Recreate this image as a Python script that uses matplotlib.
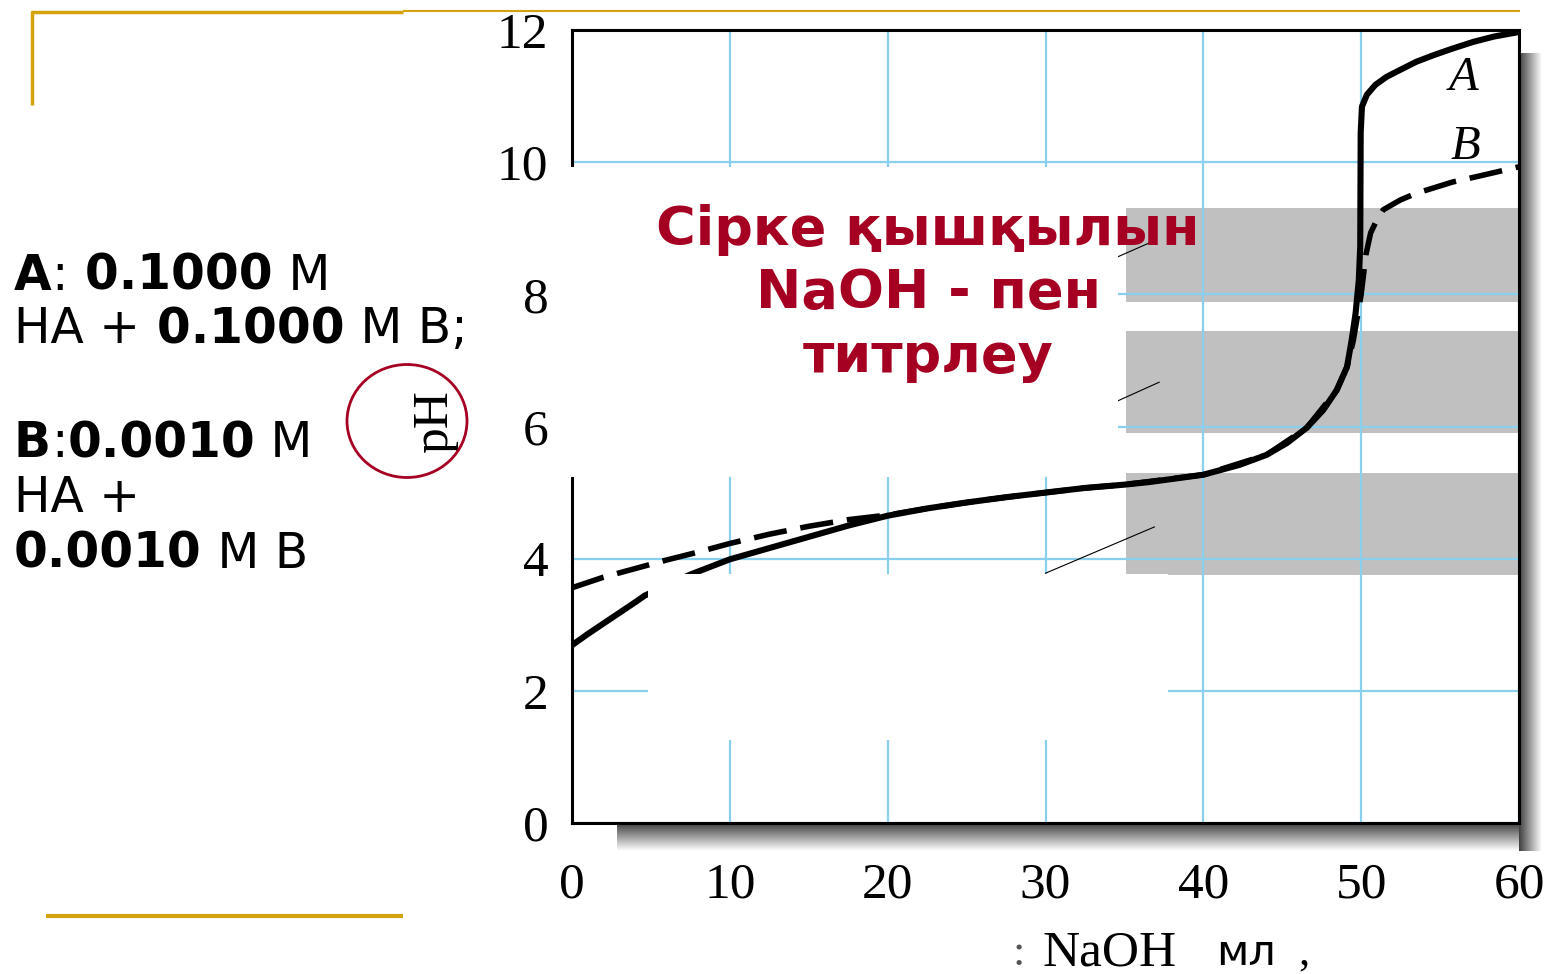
import matplotlib
matplotlib.use('Agg')
import matplotlib.pyplot as plt
from matplotlib.patches import Rectangle, Ellipse
import numpy as np

# titration curve A: 0.1000 M acid + 0.1000 M base (solid)
vol_a = [0, 1, 2, 3, 4, 4.6, 7.5, 10, 12.5, 15, 17.5, 20, 22.5, 25, 27.5,
         30, 32.5, 35, 36.6, 40, 42.3, 44, 45.3, 46.55, 47.6, 48.45, 49.1,
         49.4, 49.65, 49.85, 49.94, 49.97, 50.05, 50.36, 50.9, 51.6, 52.5,
         53.5, 54.6, 55.8, 57.1, 58.4, 60]
ph_a = [2.69, 2.86, 3.02, 3.18, 3.34, 3.44, 3.76, 3.99, 4.16, 4.33, 4.50,
        4.65, 4.76, 4.85, 4.93, 5.00, 5.07, 5.12, 5.16, 5.27, 5.42, 5.57,
        5.75, 5.98, 6.25, 6.55, 6.90, 7.31, 7.72, 8.22, 8.72, 10.45, 10.84,
        11.02, 11.17, 11.29, 11.40, 11.52, 11.62, 11.72, 11.82, 11.90, 11.97]

# titration curve B: 0.0010 M acid + 0.0010 M base (dashed)
vol_b = [0, 2, 4, 6, 8, 10, 12.5, 15, 17.5, 20, 22.5, 25, 27.5, 30, 32.5, 35,
         40, 44, 46.55, 48.45, 49.1, 49.5, 50.0, 50.3, 50.6, 51, 51.4, 52.5,
         53.5, 55.8, 57.3, 60]
ph_b = [3.56, 3.72, 3.85, 3.98, 4.10, 4.23, 4.37, 4.49, 4.59, 4.66, 4.76,
        4.85, 4.93, 5.00, 5.07, 5.12, 5.27, 5.57, 5.98, 6.55, 6.90, 7.30,
        8.00, 8.60, 8.93, 9.13, 9.28, 9.43, 9.53, 9.70, 9.78, 9.93]

x_ticks = [0, 10, 20, 30, 40, 50, 60]
y_ticks = [0, 2, 4, 6, 8, 10, 12]

# grey bands on the right of the chart (pH ranges)
band_lo = [7.88, 5.90, 3.75]
band_hi = [9.31, 7.45, 5.30]

title_lines = ["Сірке қышқылын", "NaOH - пен", "титрлеу"]

W, H = 1546, 974
RED = '#a50021'
GOLD = '#d4a20c'
SERIF = 'Liberation Serif'


def rich_line(ax, x, y, parts, size):
    t = ax.text(x, y, parts[0][0], fontsize=size, fontweight=parts[0][1],
                va='baseline', ha='left', family='DejaVu Sans')
    for s, w in parts[1:]:
        t = ax.annotate(s, xy=(1, 0), xycoords=t, va='bottom', ha='left',
                        fontsize=size, fontweight=w, family='DejaVu Sans')
    return t


fig = plt.figure(figsize=(W / 100, H / 100), dpi=100)

# drop shadow behind the chart frame
bg = fig.add_axes([0, 0, 1, 1], zorder=-1)
grad = np.linspace(0.25, 1.0, 64)
bg.imshow(grad[:, None], extent=(617, 1542, 851, 823), cmap='gray',
          vmin=0, vmax=1, aspect='auto')
bg.imshow(grad[None, :], extent=(1519, 1542, 851, 53), cmap='gray',
          vmin=0, vmax=1, aspect='auto')
bg.set_xlim(0, W)
bg.set_ylim(H, 0)
bg.axis('off')

# main chart
ax = fig.add_axes([572 / W, 1 - 823 / H, (1519 - 572) / W, (823 - 30) / H])
ax.set_facecolor('white')
ax.set_xlim(0, 60)
ax.set_ylim(0, 12)
ax.set_xticks(x_ticks)
ax.set_yticks(y_ticks)
ax.set_xticklabels([str(v) for v in x_ticks], fontfamily=SERIF, fontsize=37)
ax.set_yticklabels([str(v) for v in y_ticks], fontfamily=SERIF, fontsize=37)
ax.tick_params(length=0)
ax.tick_params(axis='y', pad=17)
ax.tick_params(axis='x', pad=28)
ax.grid(True, color='#88d0ee', lw=1.6)
for sp in ax.spines.values():
    sp.set_color('black')
    sp.set_linewidth(2.2)

for lo, hi in zip(band_lo, band_hi):
    ax.add_patch(Rectangle((35.1, lo), 24.9, hi - lo, fc='#c0c0c0', ec='none', zorder=1))

# thin leader strokes
ax.plot([34.6, 36.6], [8.57, 8.78], color='black', lw=0.8)
ax.plot([34.6, 37.2], [6.39, 6.67], color='black', lw=0.8)
ax.plot([30.0, 36.9], [3.78, 4.48], color='black', lw=0.8)

ax.plot(vol_a, ph_a, color='black', lw=4.4, zorder=3)
ax.plot(vol_b, ph_b, color='black', lw=4.0, dashes=(6, 2.5), zorder=3)

ax.text(56.5, 11.27, 'A', fontstyle='italic', family=SERIF, fontsize=35,
        ha='center', va='center')
ax.text(56.6, 10.23, 'B', fontstyle='italic', family=SERIF, fontsize=35,
        ha='center', va='center')

ax.set_ylabel('pH', fontfamily=SERIF, fontsize=37)
ax.yaxis.set_label_coords((458 - 572) / 947, (823 - 422) / 793)

# slide overlay: white boxes, decorations and text
ov = fig.add_axes([0, 0, 1, 1], zorder=2)
ov.set_xlim(0, W)
ov.set_ylim(H, 0)
ov.axis('off')
ov.patch.set_alpha(0)

ov.add_patch(Rectangle((562, 167), 1118 - 562, 477 - 167, fc='white', ec='none'))
ov.add_patch(Rectangle((648, 574), 1168 - 648, 740 - 574, fc='white', ec='none'))

ov.plot([31, 403], [12, 12], color=GOLD, lw=2.5, solid_capstyle='butt')
ov.plot([403, 1520], [11, 11], color=GOLD, lw=1.5, solid_capstyle='butt')
ov.plot([32, 32], [11, 105], color=GOLD, lw=2.5, solid_capstyle='butt')
ov.plot([46, 403], [916, 916], color=GOLD, lw=3, solid_capstyle='butt')

ov.add_patch(Ellipse((407, 421), 120, 113, fc='none', ec=RED, lw=2))

fs = 35
rich_line(ov, 14, 290, [("A", "bold"), (":", "normal"), (" 0.1000", "bold"), (" M", "normal")], fs)
rich_line(ov, 14, 343, [("HA +", "normal"), (" 0.1000", "bold"), (" M B;", "normal")], fs)
rich_line(ov, 14, 457, [("B", "bold"), (":", "normal"), ("0.0010", "bold"), (" M", "normal")], fs)
rich_line(ov, 14, 512, [("HA +", "normal")], fs)
rich_line(ov, 14, 568, [("0.0010", "bold"), (" M B", "normal")], fs)

for line, yb in zip(title_lines, [245, 308, 372]):
    ov.text(928, yb, line, color=RED, fontsize=39, fontweight='bold',
            ha='center', va='baseline', family='DejaVu Sans')

ov.text(1012, 965, ':', family=SERIF, fontsize=32, color='#555555', va='baseline')
ov.text(1043, 965, 'NaOH', family=SERIF, fontsize=37, va='baseline')
ov.text(1216, 965, 'мл', family='DejaVu Sans', fontsize=31, va='baseline')
ov.text(1298, 965, ',', family=SERIF, fontsize=32, va='baseline')

fig.savefig('out.png', dpi=100)
